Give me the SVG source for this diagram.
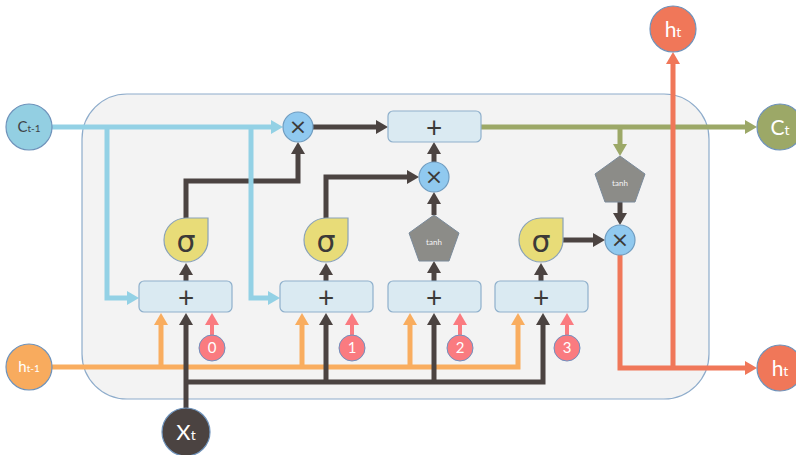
<svg xmlns="http://www.w3.org/2000/svg" width="796" height="455" viewBox="0 0 796 455">
<defs>
<style>
.lbl{font-family:Lato,"Open Sans","Liberation Sans",sans-serif;}
.box{fill:#daeaf2;stroke:#8fb0cc;stroke-width:1.2;}
.plus{font-family:Lato,"Liberation Sans",sans-serif;font-size:28px;fill:#3c3a38;text-anchor:middle;}
.sig{fill:#e8dc78;stroke:#8aa2b8;stroke-width:1.2;}
.sigt{font-family:"DejaVu Sans",sans-serif;font-size:30px;fill:#3c3a38;text-anchor:middle;}
.mul{fill:#90c9ef;stroke:#6f9cc0;stroke-width:1.2;}
.mult{font-family:"DejaVu Sans",sans-serif;font-size:22px;fill:#3c3a38;text-anchor:middle;}
.pent{fill:#8c8c88;stroke:#7a8a9a;stroke-width:1;}
.pentt{font-family:Lato,"Liberation Sans",sans-serif;font-size:8px;fill:#f4f4f4;text-anchor:middle;}
.num{fill:#fa7b80;stroke:#6f8fbf;stroke-width:1;}
.numt{font-family:Lato,"Liberation Sans",sans-serif;font-size:15px;fill:#ffffff;text-anchor:middle;}
.io{stroke:#6f93bb;stroke-width:1.2;}
.iot{font-family:Lato,"Open Sans","Liberation Sans",sans-serif;text-anchor:middle;}
.c{fill:none;stroke-width:5;stroke-linejoin:miter;}
.blue{stroke:#93d1e5;marker-end:url(#aBlue);}
.dark{stroke:#4b4341;marker-end:url(#aDark);}
.orng{stroke:#f9ad5f;marker-end:url(#aOrng);}
.pink{stroke:#fa7b80;stroke-width:4;marker-end:url(#aPink);}
.grn{stroke:#9ca867;marker-end:url(#aGrn);}
.red{stroke:#f07759;marker-end:url(#aRed);}
.nm{marker-end:none;}
</style>
<marker id="aBlue" viewBox="0 0 12 14" markerWidth="12" markerHeight="14" refX="0" refY="7" orient="auto" markerUnits="userSpaceOnUse"><path d="M0,0 L12,7 L0,14 Z" fill="#93d1e5"/></marker>
<marker id="aDark" viewBox="0 0 12 14" markerWidth="12" markerHeight="14" refX="0" refY="7" orient="auto" markerUnits="userSpaceOnUse"><path d="M0,0 L12,7 L0,14 Z" fill="#4b4341"/></marker>
<marker id="aOrng" viewBox="0 0 12 14" markerWidth="12" markerHeight="14" refX="0" refY="7" orient="auto" markerUnits="userSpaceOnUse"><path d="M0,0 L12,7 L0,14 Z" fill="#f9ad5f"/></marker>
<marker id="aPink" viewBox="0 0 12 14" markerWidth="12" markerHeight="14" refX="0" refY="7" orient="auto" markerUnits="userSpaceOnUse"><path d="M0,0 L12,7 L0,14 Z" fill="#fa7b80"/></marker>
<marker id="aGrn" viewBox="0 0 12 14" markerWidth="12" markerHeight="14" refX="0" refY="7" orient="auto" markerUnits="userSpaceOnUse"><path d="M0,0 L12,7 L0,14 Z" fill="#9ca867"/></marker>
<marker id="aRed" viewBox="0 0 12 14" markerWidth="12" markerHeight="14" refX="0" refY="7" orient="auto" markerUnits="userSpaceOnUse"><path d="M0,0 L12,7 L0,14 Z" fill="#f07759"/></marker>
</defs>
<rect width="796" height="455" fill="#ffffff"/>
<rect id="cell" x="82" y="94" width="627" height="305" rx="45" ry="45" fill="#f3f3f3" stroke="#8eaccb" stroke-width="1.2"/>

<g id="connectors">
<!-- orange h_{t-1} -->
<path class="c orng" d="M52,367 H518 V325"/>
<path class="c orng" d="M161,367 V325"/>
<path class="c orng" d="M302,367 V325"/>
<path class="c orng" d="M410,367 V325"/>
<!-- dark x_t -->
<path class="c dark" d="M186,408 V325"/>
<path class="c dark" d="M186,382 H543 V325"/>
<path class="c dark" d="M326,382 V325"/>
<path class="c dark" d="M434,382 V325"/>
<!-- pink biases -->
<path class="c pink" d="M212,335 V325"/>
<path class="c pink" d="M352,335 V325"/>
<path class="c pink" d="M460,335 V325"/>
<path class="c pink" d="M567,335 V325"/>
<!-- box to activation -->
<path class="c dark" d="M186,281 V275"/>
<path class="c dark" d="M326,281 V275"/>
<path class="c dark" d="M434,281 V273"/>
<path class="c dark" d="M541,281 V275"/>
<!-- gates -->
<path class="c dark" d="M186,218 V181 H298 V154"/>
<path class="c dark" d="M326,218 V177 H407"/>
<path class="c dark" d="M434,215 V204"/>
<path class="c dark" d="M434,162 V154"/>
<path class="c dark" d="M313,127 H376"/>
<path class="c dark" d="M563,240 H593"/>
<path class="c dark" d="M620,202 V213"/>
<!-- blue c_{t-1} -->
<path class="c blue" d="M52,127 H271"/>
<path class="c blue" d="M107,127 V298 H127"/>
<path class="c blue" d="M251,127 V298 H268"/>
<!-- green c_t -->
<path class="c grn" d="M481,127 H745"/>
<path class="c grn" d="M620,127 V144"/>
<!-- red h_t -->
<path class="c red" d="M620,255 V368 H745"/>
<path class="c red" d="M673,368 V64"/>
</g>

<g id="c_prev"><circle class="io" cx="29" cy="127" r="23" fill="#93cfe2"/><text class="iot" x="29" y="132" fill="#3f4448"><tspan font-size="15">C</tspan><tspan font-size="10">t-1</tspan></text></g>
<g id="h_prev"><circle class="io" cx="29" cy="367" r="23" fill="#f8ab5e"/><text class="iot" x="29" y="372" fill="#ffffff"><tspan font-size="15">h</tspan><tspan font-size="10">t-1</tspan></text></g>
<g id="x_t"><circle class="io" cx="186" cy="432" r="24" fill="#4b4341"/><text class="iot" x="186" y="440" fill="#ffffff"><tspan font-size="22">X</tspan><tspan font-size="14">t</tspan></text></g>
<g id="h_t_top"><circle class="io" cx="673" cy="29" r="23" fill="#f07759"/><text class="iot" x="673" y="37" fill="#ffffff"><tspan font-size="21">h</tspan><tspan font-size="14">t</tspan></text></g>
<g id="c_t"><circle class="io" cx="780" cy="127" r="23" fill="#9ca867"/><text class="iot" x="780" y="135" fill="#ffffff"><tspan font-size="21">C</tspan><tspan font-size="14">t</tspan></text></g>
<g id="h_t_right"><circle class="io" cx="780" cy="368" r="23" fill="#f07759"/><text class="iot" x="780" y="376" fill="#ffffff"><tspan font-size="21">h</tspan><tspan font-size="14">t</tspan></text></g>

<g id="sum_f"><rect class="box" x="139" y="281" width="93" height="31" rx="5"/><text class="plus" x="186" y="308">+</text></g>
<g id="sum_i"><rect class="box" x="280" y="281" width="93" height="31" rx="5"/><text class="plus" x="326" y="308">+</text></g>
<g id="sum_g"><rect class="box" x="388" y="281" width="93" height="31" rx="5"/><text class="plus" x="434" y="308">+</text></g>
<g id="sum_o"><rect class="box" x="495" y="281" width="93" height="31" rx="5"/><text class="plus" x="541" y="308">+</text></g>
<g id="sum_c"><rect class="box" x="388" y="111" width="93" height="31" rx="5"/><text class="plus" x="434" y="138">+</text></g>

<g id="sigma_f"><path class="sig" d="M208,218 V240 A22,22 0 1 1 186,218 Z"/><text class="sigt" x="186" y="252">σ</text></g>
<g id="sigma_i"><path class="sig" d="M348,218 V240 A22,22 0 1 1 326,218 Z"/><text class="sigt" x="326" y="252">σ</text></g>
<g id="sigma_o"><path class="sig" d="M563,218 V240 A22,22 0 1 1 541,218 Z"/><text class="sigt" x="541" y="252">σ</text></g>

<g id="tanh_g"><polygon class="pent" points="434,215 459,233 449,261 419,261 409,233"/><text class="pentt" x="434" y="245">tanh</text></g>
<g id="tanh_c"><polygon class="pent" points="620,156 645,174 635,202 605,202 595,174"/><text class="pentt" x="620" y="186">tanh</text></g>

<g id="mul_f"><circle class="mul" cx="298" cy="127" r="15"/><text class="mult" x="298" y="134">×</text></g>
<g id="mul_i"><circle class="mul" cx="434" cy="177" r="15"/><text class="mult" x="434" y="184">×</text></g>
<g id="mul_o"><circle class="mul" cx="620" cy="240" r="15"/><text class="mult" x="620" y="247">×</text></g>

<g id="bias0"><circle class="num" cx="212" cy="348" r="13"/><text class="numt" x="212" y="353">0</text></g>
<g id="bias1"><circle class="num" cx="352" cy="348" r="13"/><text class="numt" x="352" y="353">1</text></g>
<g id="bias2"><circle class="num" cx="460" cy="348" r="13"/><text class="numt" x="460" y="353">2</text></g>
<g id="bias3"><circle class="num" cx="567" cy="348" r="13"/><text class="numt" x="567" y="353">3</text></g>
</svg>
